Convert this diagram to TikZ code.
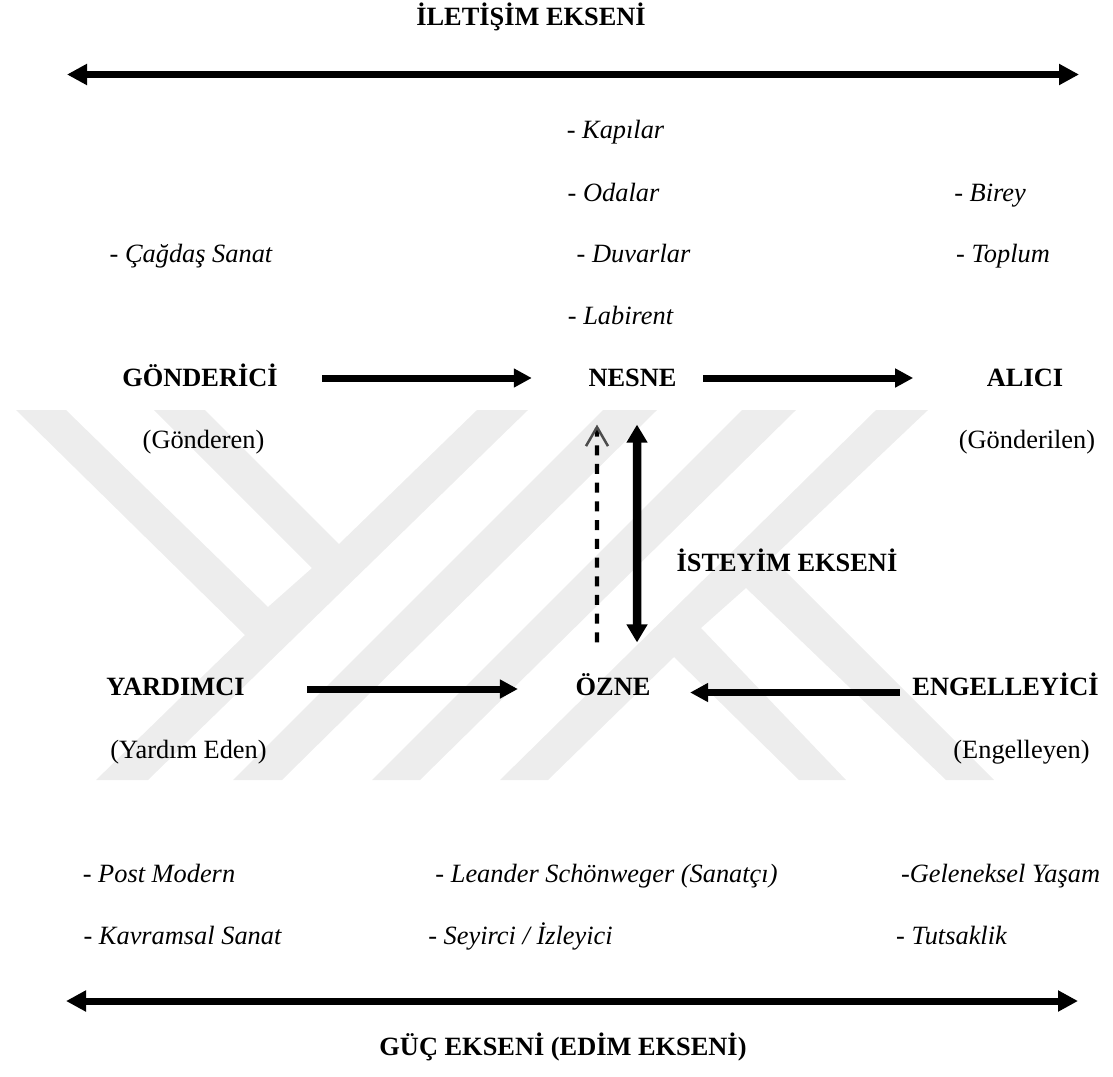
\documentclass[tikz,border=0pt]{standalone}
\usepackage{fontspec}
\setmainfont{Liberation Serif}
\usetikzlibrary{arrows.meta}

\begin{document}
\begin{tikzpicture}[
  x=0.01cm, y=-0.01cm,
  every node/.style={inner sep=0pt, text height=6pt, text depth=2pt, font=\fontsize{7.5}{9}\selectfont},
  role/.style={text height=6.5pt, text depth=1.4pt, font=\fontsize{7.5}{9}\selectfont\bfseries},
  item/.style={font=\fontsize{7.5}{9}\selectfont\itshape},
  watermark/.style={fill=black!7, draw=none},
  axis_arrow/.style={line width=0.07cm, {Triangle[length=0.2cm,width=0.2cm]}-{Triangle[length=0.2cm,width=0.2cm]}},
  main_arrow/.style={line width=0.07cm, -{Triangle[length=0.18cm,width=0.18cm]}},
  dash_arrow/.style={line width=0.043cm, dash pattern=on 0.1cm off 0.087cm, -{Straight Barb[length=0.19cm,width=0.22cm,line width=0.025cm,black!70]}}
  ]
	\useasboundingbox (0,0) rectangle (1113,1076);

	\fill[watermark] (16,410) -- (66,410) -- (268,607) -- (312,568) -- (154,410) -- (205,410) -- (339,544)
		-- (477,410) -- (528,410) -- (148,780) -- (96,780) -- (245,635) -- cycle;
	\fill[watermark] (603,410) -- (657,410) -- (282,780) -- (233,780) -- cycle;
	\fill[watermark] (742,410) -- (796,410) -- (420,780) -- (372,780) -- cycle;
	\fill[watermark] (876,410) -- (928,410) -- (772,558) -- (994,780) -- (946,780) -- (746,588) -- (701,628)
		-- (846,780) -- (799,780) -- (674,657) -- (548,780) -- (500,780) -- cycle;

	\node[role] (iletisim) at (531,17) {İLETİŞİM EKSENİ};
	\coordinate (iletisim_l) at (67,74.5);
	\coordinate (iletisim_r) at (1079,74.5);

	\node[item] (kapilar) at (615.5,131) {- Kapılar};
	\node[item] (odalar) at (613.5,194) {- Odalar};
	\node[item] (birey) at (990,194) {- Birey};
	\node[item] (sanat) at (191,255) {- Çağdaş Sanat};
	\node[item] (duvarlar) at (633.5,255) {- Duvarlar};
	\node[item] (toplum) at (1003,255) {- Toplum};
	\node[item] (labirent) at (620.5,317) {- Labirent};

	\node[role] (gonderici) at (200,378) {GÖNDERİCİ};
	\node[role] (nesne) at (632.5,378) {NESNE};
	\node[role] (alici) at (1025,378) {ALICI};

	\node (gonderen) at (203.5,441) {(Gönderen)};
	\node (gonderilen) at (1027,441) {(Gönderilen)};
	\node[role] (isteyim) at (787,563) {İSTEYİM EKSENİ};

	\node[role] (yardimci) at (175.5,687) {YARDIMCI};
	\node[role] (ozne) at (613,687) {ÖZNE};
	\node[role] (engelleyici) at (1005.5,687) {ENGELLEYİCİ};

	\node (yardim) at (188.5,751) {(Yardım Eden)};
	\node (engelleyen) at (1021.5,751) {(Engelleyen)};

	\node[item] (post) at (159,875) {- Post Modern};
	\node[item] (leander) at (606.5,875) {- Leander Schönweger (Sanatçı)};
	\node[item] (yasam) at (1000.5,875) {-Geleneksel Yaşam};
	\node[item] (kavramsal) at (182.5,937.5) {- Kavramsal Sanat};
	\node[item] (seyirci) at (520.5,937.5) {- Seyirci / İzleyici};
	\node[item] (tutsaklik) at (951.5,937.5) {- Tutsaklik};

	\coordinate (guc_l) at (66,1001);
	\coordinate (guc_r) at (1078,1001);
	\node[role] (guc) at (563,1047) {GÜÇ EKSENİ (EDİM EKSENİ)};

	\draw[axis_arrow] (iletisim_l) -- (iletisim_r);
	\draw[axis_arrow] (guc_l) -- (guc_r);

	\draw[main_arrow, shorten <=0.44cm, shorten >=0.56cm] (gonderici.east) -- (nesne.west);
	\draw[main_arrow, shorten <=0.26cm, shorten >=0.73cm] (nesne.east) -- (alici.west);
	\draw[main_arrow, shorten <=0.62cm, shorten >=0.57cm] ([yshift=-0.02cm]yardimci.east) -- ([yshift=-0.02cm]ozne.west);
	\draw[main_arrow, shorten <=0.12cm, shorten >=0.39cm] ([yshift=-0.055cm]engelleyici.west) -- ([yshift=-0.055cm]ozne.east);

	\draw[dash_arrow, shorten <=0.30cm, shorten >=0.32cm] ([xshift=-0.16cm]ozne.north) -- ([xshift=-0.355cm]nesne.south);
	\draw[line width=0.085cm, {Triangle[length=0.18cm,width=0.2cm]}-{Triangle[length=0.18cm,width=0.2cm]}, shorten <=0.32cm, shorten >=0.30cm]
		([xshift=0.045cm]nesne.south) -- ([xshift=0.24cm]ozne.north);
\end{tikzpicture}
\end{document}
